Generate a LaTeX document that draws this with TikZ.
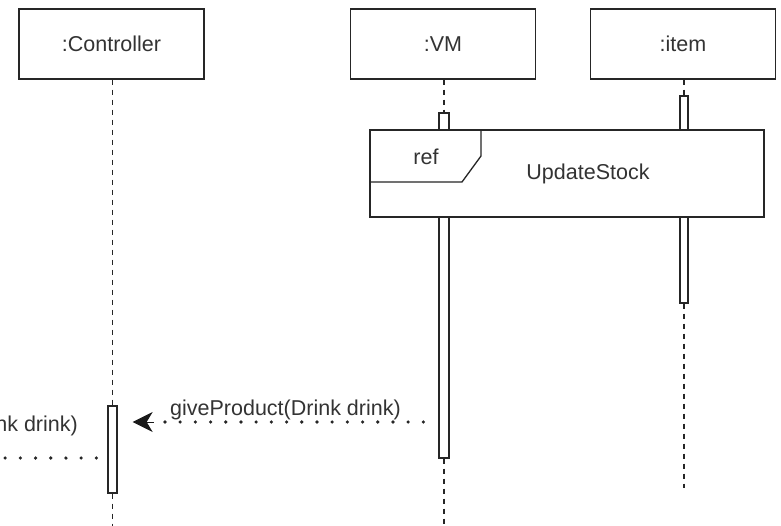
\documentclass[tikz,border=0pt]{standalone}
\usepackage{fontspec}
\setmainfont{Liberation Sans}
\usetikzlibrary{arrows.meta,calc}
\begin{document}
\begin{tikzpicture}[x=1pt,y=-1pt,
  every node/.style={font=\fontsize{21.5}{24}\selectfont, text=black!80, inner sep=0pt},
  objbox/.style={draw=black!85, line width=1.3pt, fill=white, minimum width=185pt, minimum height=70pt},
  actbar/.style={draw=black!85, line width=1.3pt, fill=white},
  lifeline/.style={draw=black!85, line width=1.6pt, dash pattern=on 5pt off 5pt},
  msgdots/.style={draw=black!85, line width=3.6pt, line cap=round, dash pattern=on 0pt off 15.2pt},
  msgtip/.style={draw=black!90, fill=black!90, line width=1pt, -{Stealth[length=20pt 0 1, width=20pt 0 1, inset=6pt 0 1]}},
  frameline/.style={draw=black!85, line width=1.3pt}
]
\useasboundingbox (0,0) rectangle (781,526);
\clip (0,0) rectangle (781,526);

% object heads
\node[objbox] (ctl) at (111.5,44) {:Controller};
\node[objbox] (vm) at (443,44) {:VM};
\node[objbox] (item) at (683,44) {:item};

% activation bars
\node[actbar, minimum width=10pt, minimum height=345pt] (vmact) at (444,285.5) {};
\node[actbar, minimum width=8pt, minimum height=207pt] (itemact) at (684,199.5) {};
\node[actbar, minimum width=9pt, minimum height=87pt] (ctlact) at (112.5,449.5) {};

% lifeline ends
\coordinate (ctlend) at (112.5,530);
\coordinate (vmend) at (444,530);
\coordinate (itemend) at (684,488);

% lifelines
\draw[lifeline] (ctl.south -| ctlact.north) -- (ctlact.north);
\draw[lifeline] (ctlact.south) -- (ctlend);
\draw[lifeline] (vm.south -| vmact.north) -- (vmact.north);
\draw[lifeline] (vmact.south) -- (vmend);
\draw[lifeline] (item.south -| itemact.north) -- (itemact.north);
\draw[lifeline] (itemact.south) -- (itemend);

% ref frame
\node[frameline, fill=white, minimum width=394pt, minimum height=87pt] (ref) at (567,173.5) {};
\draw[frameline] (481,130) -- (481,156) -- (462,182) -- (370,182);
\node (reflabel) at (426,157) {ref};
\node (upd) at (588,174) {UpdateStock};

% message giveProduct (VM -> Controller)
\coordinate (gpS) at ($(vmact.west |- 0,422)+(-15,0)$);
\coordinate (gpB) at ($(ctlact.east |- 0,422)+(36,0)$);
\coordinate (gpT) at ($(ctlact.east |- 0,422)+(15,0)$);
\draw[msgdots] (gpS) -- (gpB);
\draw[msgtip] (gpB) -- (gpT);
\node[anchor=base] (gplabel) at (285.5,415) {giveProduct(Drink drink)};

% outgoing message from Controller to the left
\coordinate (lmS) at ($(ctlact.west |- 0,458)+(-11,0)$);
\coordinate (lmE) at (-30,458);
\draw[msgdots] (lmS) -- (lmE);
\node[anchor=base east] (lmlabel) at (78,431) {nk drink)};
\end{tikzpicture}
\end{document}
